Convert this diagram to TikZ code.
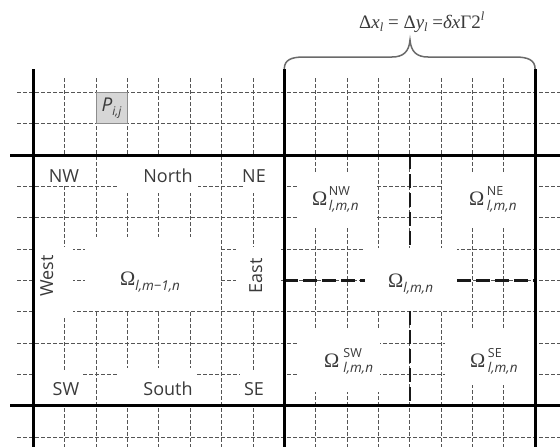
\documentclass[tikz,border=0pt]{standalone}
\usepackage{fontspec}
\setmainfont{Open Sans}
\newfontfamily\ser{Liberation Serif}
\definecolor{txt}{HTML}{3A3A3A}
\definecolor{gridc}{HTML}{555555}
\definecolor{bracec}{HTML}{6A6A6A}
\definecolor{pfill}{HTML}{D6D6D6}
\definecolor{pdraw}{HTML}{8C8C8C}
\newcommand{\Om}[3]{{\ser\fontsize{20.5}{20.5}\selectfont Ω}\hspace{#1}\rlap{\raisebox{9.5pt}{\fontsize{12.5}{12.5}\selectfont #2}}\raisebox{-5pt}{\fontsize{13.5}{13.5}\selectfont\itshape #3}}
\begin{document}
\begin{tikzpicture}[x=1pt,y=-1pt,
  gridline/.style={gridc, line width=0.9pt, dash pattern=on 3.5pt off 2.5pt},
  thickline/.style={black, line width=3pt},
  middash/.style={black!90, line width=2.2pt, dash pattern=on 14pt off 5pt},
  lab/.style={text=txt, font=\fontsize{18}{18}\selectfont, inner sep=0pt, anchor=base},
  omlab/.style={text=txt, inner sep=0pt, anchor=base west},
  gapbox/.style={fill=white, draw=none},
  bracepath/.style={bracec, line width=1.5pt}
]
\useasboundingbox (0,0) rectangle (560,447);
\fill[white] (0,0) rectangle (560,447);

% thin dashed grid
\foreach \k in {1,2,3,4,5,6,7,9,10,11,12,13,14,15}
  \draw[gridline] ({33.5+31.35*\k},78) -- ({33.5+31.35*\k},447);
\foreach \k in {-2,-1,1,2,3,4,5,6,7,9}
  \draw[gridline] (17,{155+31.35*\k}) -- (560,{155+31.35*\k});

% white gaps behind the labels, left block
\fill[gapbox] (38,156) rectangle (92,185);
\fill[gapbox] (117,156) rectangle (198,192.5);
\fill[gapbox] (244,156) rectangle (283,192.5);
\fill[gapbox] (35,247) rectangle (73,316);
\fill[gapbox] (85,237) rectangle (220,310);
\fill[gapbox] (235.5,247) rectangle (279,310.5);
\fill[gapbox] (35,370) rectangle (82,405);
\fill[gapbox] (118,368) rectangle (197,405);
\fill[gapbox] (240,372) rectangle (283,405);
% right block
\fill[gapbox] (297,173) rectangle (377,228);
\fill[gapbox] (442.5,173) rectangle (534,228);
\fill[gapbox] (365,248.3) rectangle (457,310.5);
\fill[gapbox] (297,330) rectangle (380,392);
\fill[gapbox] (445,330) rectangle (534,385);

% sub-block boundaries
\draw[middash] (409.7,155) -- (409.7,249);
\draw[middash] (409.7,311) -- (409.7,405.8);
\draw[middash] (284.3,280.4) -- (365,280.4);
\draw[middash] (457,280.4) -- (535.1,280.4);

% thick block lines
\draw[thickline] (10,155) -- (560,155);
\draw[thickline] (10,405.8) -- (560,405.8);
\coordinate (bl) at (284.3,69);
\coordinate (br) at (535.1,69);
\draw[thickline] (33.5,69) -- (33.5,447);
\draw[thickline] (bl) -- (284.3,447);
\draw[thickline] (br) -- (535.1,447);

% cell P
\draw[pdraw, fill=pfill, line width=1pt] (96.2,92.3) rectangle (127.55,123.65);
\node[omlab, font=\fontsize{19}{19}\selectfont\itshape] (p) at (101.5,111) {P\raisebox{-4.5pt}{\fontsize{12}{12}\selectfont i,j}};

% labels left block
\node[lab] (nw) at (64,182) {NW};
\node[lab] (north) at (168,182) {North};
\node[lab] (ne) at (254,182) {NE};
\node[lab, rotate=90] (west) at (53,276) {West};
\node[lab, rotate=90] (east) at (262,276) {East};
\node[lab] (sw) at (66,395) {SW};
\node[lab] (south) at (168,395) {South};
\node[lab] (se) at (254,395) {SE};
\node[omlab] (oleft) at (120,285) {\Om{0pt}{}{l,m−1,n}};

% labels right block
\node[omlab] (onw) at (312,205) {\Om{1.5pt}{NW}{l,m,n}};
\node[omlab] (one) at (469,205) {\Om{2.5pt}{NE}{l,m,n}};
\node[omlab] (oc) at (388,287) {\Om{0pt}{}{l,m,n}};
\node[omlab] (osw) at (324,367) {\Om{4pt}{SW}{l,m,n}};
\node[omlab] (ose) at (470,367) {\Om{2.5pt}{SE}{l,m,n}};

% brace and formula
\draw[bracepath] (bl) .. controls (284.3,60) and (291,57) .. (304,57)
  -- (392,57) .. controls (403,57) and (409,52) .. (410,40)
  .. controls (411,52) and (417,57) .. (428,57)
  -- (515,57) .. controls (528,57) and (535.1,60) .. (br);
\node[omlab, font=\ser\fontsize{19}{19}\selectfont] (formula) at (359,28)
  {Δ\textit{x}\raisebox{-3.5pt}{\fontsize{12.5}{12.5}\selectfont\textit{l}} = Δ\textit{y}\raisebox{-3.5pt}{\fontsize{12.5}{12.5}\selectfont\textit{l}} =\textit{δx}Γ2\raisebox{7.5pt}{\fontsize{12.5}{12.5}\selectfont\textit{l}}};
\end{tikzpicture}
\end{document}
